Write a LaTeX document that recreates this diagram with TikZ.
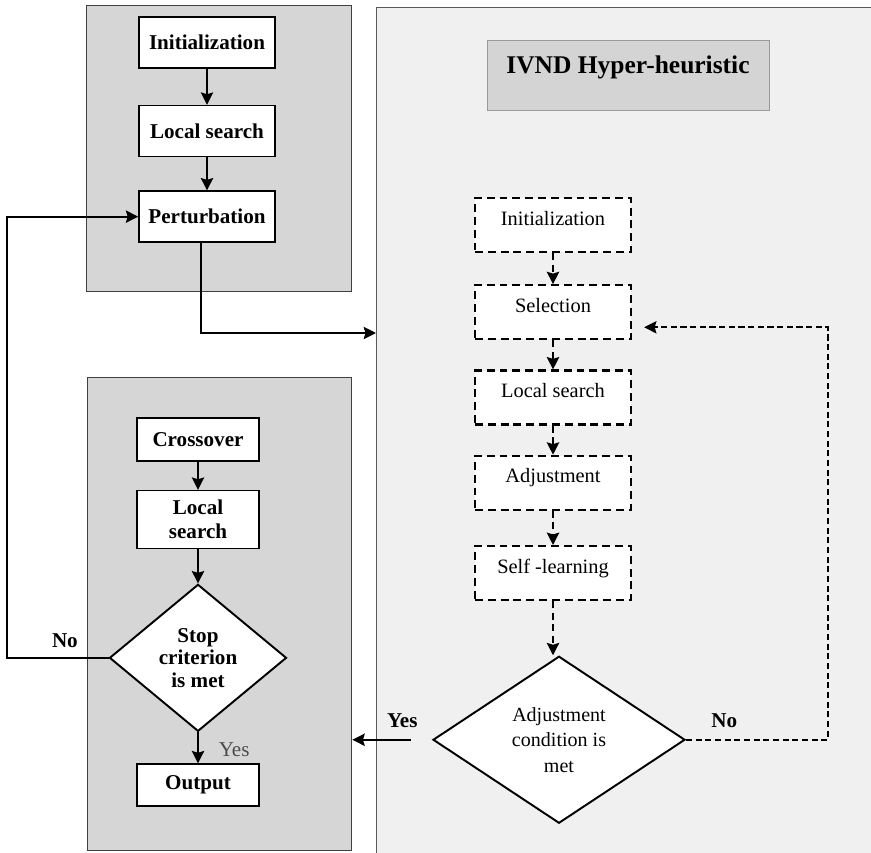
\documentclass[tikz,border=0pt]{standalone}
\usepackage{fontspec}
\setmainfont{Liberation Serif}
\usetikzlibrary{shapes.geometric, arrows.meta, positioning, calc}

\begin{document}
\begin{tikzpicture}[
    node distance=0.7cm,
    panel/.style={draw=black!75, line width=0.8pt, anchor=north west, inner sep=0pt},
    box/.style={draw, rectangle, line width=0.9pt, fill=white, align=center,
      font=\fontsize{12}{13.5}\selectfont\bfseries},
    dbox/.style={draw, dashed, dash pattern=on 4.5pt off 2.8pt, line width=1.3pt, fill=white,
      minimum width=3.12cm, minimum height=1.08cm, text height=0.27cm, text depth=0.27cm,
      font=\fontsize{11.6}{13}\selectfont},
    decision/.style={draw, shape=diamond, line width=1.1pt, fill=white, align=center, inner sep=0pt},
    lbl/.style={font=\fontsize{12}{14}\selectfont\bfseries},
    arrow/.style={line width=1.1pt, -{Stealth[length=7pt, width=7pt, inset=1pt]}},
    dasharrow/.style={arrow, dashed, dash pattern=on 4pt off 2.5pt, line width=1.3pt},
    dashloop/.style={arrow, dashed, dash pattern=on 3.5pt off 2pt, line width=0.9pt}
]
\useasboundingbox (0,0) rectangle (17.42,-17.04);

% grey panels behind the flows
\node[panel, fill=black!16, minimum width=5.30cm, minimum height=5.72cm] (ilsgroup) at (1.72,-0.10) {};
\node[panel, fill=black!16, minimum width=5.28cm, minimum height=9.46cm] (gagroup) at (1.74,-7.54) {};
\node[panel, fill=black!6, draw=black!65, minimum width=10.5cm, minimum height=17.4cm] (hyper) at (7.52,-0.14) {};
\node[draw=black!40, fill=black!17, minimum width=5.64cm, minimum height=1.40cm, text depth=0.41cm,
  font=\fontsize{14.5}{17}\selectfont\bfseries] (title) at (12.56,-1.50) {IVND Hyper-heuristic};

% upper left flow
\node[box, minimum width=2.72cm, minimum height=1.02cm] (init) at (4.14,-0.85) {Initialization};
\node[box, minimum width=2.72cm, minimum height=1.02cm, below=0.72cm of init] (ls) {Local search};
\node[box, minimum width=2.72cm, minimum height=1.02cm, below=0.66cm of ls] (perturb) {Perturbation};

% lower left flow
\node[box, minimum width=2.44cm, minimum height=0.86cm] (cross) at (3.96,-8.79) {Crossover};
\node[box, minimum width=2.44cm, minimum height=1.16cm, below=0.56cm of cross] (gals) {Local\\search};
\node[decision, minimum width=3.54cm, minimum height=2.94cm, below=0.68cm of gals,
  font=\fontsize{12}{12.8}\selectfont\bfseries] (stop) {Stop\\criterion\\is met};
\node[box, minimum width=2.44cm, minimum height=0.84cm, below=0.62cm of stop] (output) {Output};

% hyper-heuristic flow
\node[dbox] (hinit) at (11.06,-4.50) {Initialization};
\node[dbox, below=0.62cm of hinit] (select) {Selection};
\node[dbox, below=0.58cm of select] (hls) {Local search};
\node[dbox, below=0.58cm of hls] (adjust) {Adjustment};
\node[dbox, below=0.68cm of adjust] (selflearn) {Self -learning};
\node[decision, minimum width=5.04cm, minimum height=3.34cm, below=1.08cm of selflearn, xshift=0.12cm,
  font=\fontsize{11.4}{14.5}\selectfont] (cond) {Adjustment\\condition is\\met};

\draw[arrow] (init) -- (ls);
\draw[arrow] (ls) -- (perturb);
\draw[arrow] ([xshift=-0.12cm]perturb.south) |- (hyper.west |- 0,-6.66);

\draw[arrow] (cross) -- (gals);
\draw[arrow] (gals) -- (stop);
\draw[arrow] (stop) -- node[right=0.28cm, pos=0.55, font=\fontsize{12}{14}\selectfont, text=black!70] {Yes} (output);
\draw[arrow] (stop.west) -- node[lbl, above=2pt, pos=0.43] {No} ++(-2.03,0) |- (perturb.west);

\draw[dasharrow] (hinit) -- (select);
\draw[dasharrow] (select) -- (hls);
\draw[dasharrow] (hls) -- (adjust);
\draw[dasharrow] (adjust) -- (selflearn);
\draw[dasharrow] (selflearn) -- (selflearn |- cond.north);
\draw[dashloop] (cond.east) -- node[lbl, above=3pt, pos=0.27] {No} ++(2.84,0)
  |- ([xshift=0.24cm, yshift=-0.3cm]select.east);
\draw[arrow] ([xshift=-0.42cm]cond.west) -- node[lbl, above=3pt, pos=0.15] {Yes} (cond.west -| gagroup.east);
\end{tikzpicture}
\end{document}
